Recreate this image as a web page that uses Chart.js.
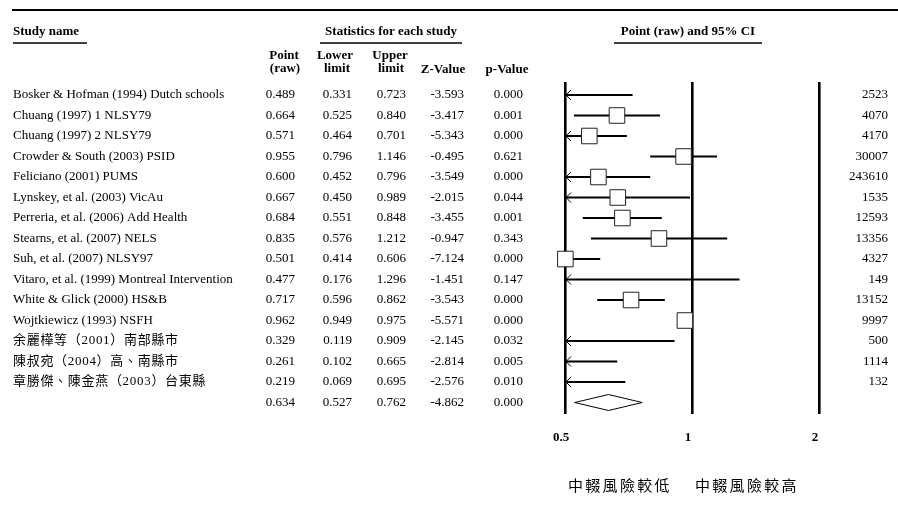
<!DOCTYPE html>
<html>
<head>
<meta charset="utf-8">
<script src="https://cdn.jsdelivr.net/npm/chart.js@4.4.1/dist/chart.umd.min.js"></script>
<style>
  html, body { margin: 0; padding: 0; background: #fff; }
  #wrap { width: 898px; height: 507px; }
</style>
</head>
<body>
<div id="wrap"><canvas id="forest" width="898" height="507"></canvas></div>
<script>
const studies = [
    'Bosker & Hofman (1994) Dutch schools',
    'Chuang (1997) 1 NLSY79',
    'Chuang (1997) 2 NLSY79',
    'Crowder & South (2003) PSID',
    'Feliciano (2001) PUMS',
    'Lynskey, et al. (2003) VicAu',
    'Perreria, et al. (2006) Add Health',
    'Stearns, et al. (2007) NELS',
    'Suh, et al. (2007) NLSY97',
    'Vitaro, et al. (1999) Montreal Intervention',
    'White & Glick (2000) HS&B',
    'Wojtkiewicz (1993) NSFH',
    '余麗樺等（2001）南部縣市',
    '陳叔宛（2004）高、南縣市',
    '章勝傑、陳金燕（2003）台東縣'
];
const points  = [0.489, 0.664, 0.571, 0.955, 0.600, 0.667, 0.684, 0.835, 0.501, 0.477, 0.717, 0.962, 0.329, 0.261, 0.219];
const lowers  = [0.331, 0.525, 0.464, 0.796, 0.452, 0.450, 0.551, 0.576, 0.414, 0.176, 0.596, 0.949, 0.119, 0.102, 0.069];
const uppers  = [0.723, 0.840, 0.701, 1.146, 0.796, 0.989, 0.848, 1.212, 0.606, 1.296, 0.862, 0.975, 0.909, 0.665, 0.695];
const zValues = [-3.593, -3.417, -5.343, -0.495, -3.549, -2.015, -3.455, -0.947, -7.124, -1.451, -3.543, -5.571, -2.145, -2.814, -2.576];
const pValues = [0.000, 0.001, 0.000, 0.621, 0.000, 0.044, 0.001, 0.343, 0.000, 0.147, 0.000, 0.000, 0.032, 0.005, 0.010];
const totals  = [2523, 4070, 4170, 30007, 243610, 1535, 12593, 13356, 4327, 149, 13152, 9997, 500, 1114, 132];

const summaryPoint = 0.634;
const summaryLower = 0.527;
const summaryUpper = 0.762;
const summaryZ = -4.862;
const summaryP = 0.000;

const xTicks = [0.5, 1, 2];
const favourLabels = ['中輟風險較低', '中輟風險較高'];

const X_MIN = xTicks[0];
const X_MAX = xTicks[xTicks.length - 1];
const summaryRow = studies.length;
const SERIF = "'Liberation Serif', 'Times New Roman', 'Noto Sans CJK TC', serif";
const CJK = "'Noto Sans CJK TC', 'Noto Sans CJK SC', sans-serif";

// white boxes first so they sit on top of the CI lines
const datasets = [{
    label: 'point',
    data: points.map((p, i) => ({ x: p, y: i })),
    showLine: false,
    pointStyle: 'rect',
    pointRadius: ctx => (ctx.raw && ctx.raw.x >= X_MIN) ? 11 : 0,
    pointBackgroundColor: '#fff',
    pointBorderColor: '#222',
    pointBorderWidth: 1,
    clip: false,
    order: 0
}];

studies.forEach((s, i) => {
    datasets.push({
        label: s,
        data: [{ x: lowers[i], y: i }, { x: uppers[i], y: i }],
        showLine: true,
        borderColor: '#000',
        borderWidth: 2.2,
        pointRadius: 0,
        order: 1
    });
});

const dh = 0.39;
datasets.push({
    label: 'summary',
    data: [
        { x: summaryLower, y: summaryRow },
        { x: summaryPoint, y: summaryRow - dh },
        { x: summaryUpper, y: summaryRow },
        { x: summaryPoint, y: summaryRow + dh },
        { x: summaryLower, y: summaryRow }
    ],
    showLine: true,
    borderColor: '#000',
    borderWidth: 1,
    pointRadius: 0,
    order: 1
});

const fmt = v => v.toFixed(3);

// arrows where the lower limit runs off the left edge (under the boxes)
const arrowPlugin = {
    id: 'arrows',
    beforeDatasetsDraw(chart) {
        const ctx = chart.ctx;
        const x0 = chart.scales.x.getPixelForValue(X_MIN);
        const ys = chart.scales.y;
        ctx.save();
        ctx.strokeStyle = '#000';
        ctx.lineWidth = 1;
        lowers.forEach((lo, i) => {
            if (lo >= X_MIN) return;
            const y = ys.getPixelForValue(i);
            ctx.beginPath();
            ctx.moveTo(x0 + 6, y - 5);
            ctx.lineTo(x0 + 1, y);
            ctx.lineTo(x0 + 6, y + 5);
            ctx.stroke();
        });
        ctx.restore();
    }
};

const tablePlugin = {
    id: 'table',
    afterDraw(chart) {
        const ctx = chart.ctx;
        const ys = chart.scales.y;
        ctx.save();
        ctx.fillStyle = '#000';
        ctx.strokeStyle = '#000';

        // top rule
        ctx.lineWidth = 2;
        ctx.beginPath(); ctx.moveTo(12, 10); ctx.lineTo(898, 10); ctx.stroke();

        // group headers
        ctx.font = 'bold 13px ' + SERIF;
        ctx.textBaseline = 'middle';
        ctx.textAlign = 'left';
        ctx.fillText('Study name', 13, 32);
        ctx.textAlign = 'center';
        ctx.fillText('Statistics for each study', 391, 32);
        ctx.fillText('Point (raw) and 95% CI', 688, 32);
        ctx.lineWidth = 1.5;
        [[13, 87], [320, 462], [614, 762]].forEach(([a, b]) => {
            ctx.beginPath(); ctx.moveTo(a, 43); ctx.lineTo(b, 43); ctx.stroke();
        });

        // column headers
        ctx.fillText('Point', 284, 56);
        ctx.fillText('(raw)', 285, 69);
        ctx.fillText('Lower', 335, 56);
        ctx.fillText('limit', 337, 69);
        ctx.fillText('Upper', 390, 56);
        ctx.fillText('limit', 391, 69);
        ctx.fillText('Z-Value', 443, 70);
        ctx.fillText('p-Value', 507, 70);

        // rows
        ctx.font = '13px ' + SERIF;
        const cols = [295, 352, 406, 464, 523];
        const row = (y, vals) => {
            ctx.textAlign = 'right';
            vals.forEach((v, k) => ctx.fillText(v, cols[k], y));
        };
        studies.forEach((s, i) => {
            const y = ys.getPixelForValue(i);
            ctx.textAlign = 'left';
            ctx.letterSpacing = /[^\x00-\x7f]/.test(s) ? '0.7px' : '0px';
            ctx.fillText(s, 13, y);
            ctx.letterSpacing = '0px';
            row(y, [fmt(points[i]), fmt(lowers[i]), fmt(uppers[i]), fmt(zValues[i]), fmt(pValues[i])]);
            ctx.textAlign = 'right';
            ctx.fillText(String(totals[i]), 888, y);
        });
        const sy = ys.getPixelForValue(summaryRow);
        row(sy, [fmt(summaryPoint), fmt(summaryLower), fmt(summaryUpper), fmt(summaryZ), fmt(summaryP)]);

        // favours labels
        ctx.font = '15px ' + CJK;
        ctx.textAlign = 'left';
        ctx.letterSpacing = '2.3px';
        ctx.fillText(favourLabels[0], 568, 485);
        ctx.fillText(favourLabels[1], 695, 485);
        ctx.restore();
    }
};

new Chart(document.getElementById('forest'), {
    type: 'scatter',
    data: { datasets },
    options: {
        responsive: false,
        animation: false,
        events: [],
        layout: { padding: { left: 565, right: 79, top: 82, bottom: 53 } },
        plugins: { legend: { display: false }, tooltip: { enabled: false } },
        scales: {
            x: {
                type: 'logarithmic',
                min: X_MIN,
                max: X_MAX,
                afterBuildTicks: s => { s.ticks = xTicks.map(v => ({ value: v })); },
                afterFit: s => { s.height = 40; },
                grid: { color: '#000', lineWidth: 2.6, drawTicks: false },
                border: { display: false },
                ticks: {
                    padding: 16,
                    labelOffset: -4,
                    color: '#000',
                    font: { family: SERIF, size: 13, weight: 'bold' },
                    callback: v => String(v),
                    maxRotation: 0
                }
            },
            y: {
                type: 'linear',
                reverse: true,
                min: -0.634,
                max: 15.56,
                display: false
            }
        }
    },
    plugins: [arrowPlugin, tablePlugin]
});
</script>
</body>
</html>
